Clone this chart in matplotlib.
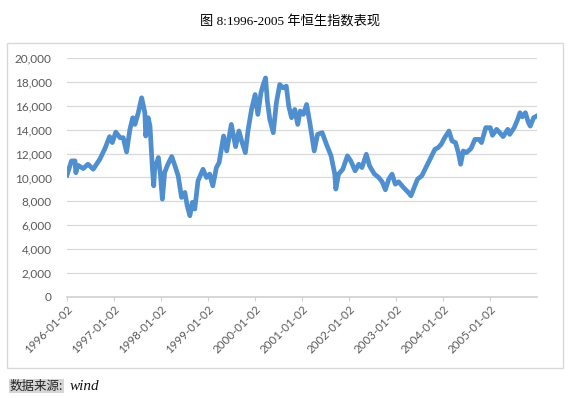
import pandas as pd
import matplotlib
matplotlib.use("Agg")
import matplotlib.pyplot as plt
import matplotlib.dates as mdates
from matplotlib.patches import Rectangle
from matplotlib.ticker import FuncFormatter

# HSI readings (approximate)
dates = ["1996-01-02", "1996-02-06", "1996-03-04", "1996-03-11", "1996-03-25",
         "1996-05-08", "1996-06-13", "1996-07-24", "1996-08-19", "1996-09-13",
         "1996-10-23", "1996-11-28", "1996-12-19", "1997-01-15", "1997-02-17",
         "1997-03-14", "1997-04-09", "1997-05-05", "1997-05-27", "1997-06-13",
         "1997-07-09", "1997-08-04", "1997-08-29", "1997-09-05", "1997-09-24",
         "1997-10-08", "1997-10-27", "1997-11-06", "1997-11-13", "1997-12-12",
         "1997-12-29", "1998-01-12", "1998-01-30", "1998-02-24", "1998-03-26",
         "1998-04-20", "1998-05-15", "1998-06-10", "1998-07-06", "1998-07-24",
         "1998-08-14", "1998-09-02", "1998-09-21", "1998-10-16", "1998-11-24",
         "1998-12-21", "1999-01-15", "1999-02-08", "1999-03-08", "1999-03-29",
         "1999-05-03", "1999-05-27", "1999-07-02", "1999-08-04", "1999-08-30",
         "1999-09-20", "1999-10-19", "1999-11-10", "1999-12-06", "2000-01-03",
         "2000-01-24", "2000-02-17", "2000-03-06", "2000-03-24", "2000-04-07",
         "2000-04-26", "2000-05-23", "2000-06-16", "2000-07-12", "2000-08-07",
         "2000-09-01", "2000-09-20", "2000-10-12", "2000-11-06", "2000-11-29",
         "2000-12-18", "2001-01-12", "2001-02-06", "2001-03-05", "2001-04-06",
         "2001-05-02", "2001-06-07", "2001-07-10", "2001-08-15", "2001-09-13",
         "2001-09-21", "2001-10-12", "2001-11-14", "2001-12-20", "2002-01-15",
         "2002-02-18", "2002-03-18", "2002-04-12", "2002-05-16", "2002-06-10",
         "2002-07-17", "2002-08-20", "2002-09-16", "2002-10-11", "2002-11-06",
         "2002-12-02", "2002-12-27", "2003-01-22", "2003-02-28", "2003-04-07",
         "2003-04-28", "2003-05-23", "2003-06-18", "2003-07-21", "2003-08-15",
         "2003-09-10", "2003-10-06", "2003-10-31", "2003-11-25", "2003-12-19",
         "2004-01-15", "2004-02-17", "2004-03-12", "2004-04-08", "2004-04-30",
         "2004-05-18", "2004-06-07", "2004-07-02", "2004-08-06", "2004-09-06",
         "2004-10-08", "2004-10-27", "2004-11-29", "2005-01-03", "2005-01-20",
         "2005-02-21", "2005-03-18", "2005-04-13", "2005-05-19", "2005-06-03",
         "2005-07-08", "2005-08-04", "2005-08-22", "2005-09-09", "2005-10-03",
         "2005-10-27", "2005-11-10", "2005-12-06", "2005-12-29"]
hsi = [10200, 11390, 11390, 10400, 11030,
       10750, 11110, 10690, 11110, 11530,
       12420, 13420, 12920, 13800, 13330,
       13330, 12140, 14030, 15000, 14440,
       15420, 16670, 15420, 13470, 15000,
       14300, 10690, 9300, 10690, 11670,
       10140, 8190, 10420, 11110, 11750,
       10970, 10140, 8330, 8750, 7640,
       6800, 7920, 7360, 9720, 10690,
       10000, 10280, 9300, 10830, 11250,
       13470, 12220, 14440, 12580, 13890,
       13060, 12080, 14030, 15690, 16940,
       15280, 17080, 17780, 18330, 16390,
       14860, 13750, 16250, 17780, 17500,
       17640, 15970, 15000, 15690, 14440,
       15560, 15280, 16110, 14440, 12220,
       13610, 13750, 12780, 11810, 10280,
       9030, 10280, 10690, 11810, 11390,
       10560, 11110, 10830, 11940, 10970,
       10300, 10000, 9640, 8970, 9860,
       10280, 9440, 9640, 9170, 8750,
       8470, 9170, 9860, 10140, 10690,
       11250, 11810, 12360, 12500, 12780,
       13330, 13890, 13060, 12920, 12080,
       11110, 12220, 12080, 12420, 13190,
       13190, 12920, 14170, 14170, 13530,
       14030, 13750, 13420, 14030, 13610,
       14170, 14860, 15420, 15080, 15420,
       14580, 14300, 15000, 15140]
tick_dates = ["1996-01-02", "1997-01-02", "1998-01-02", "1999-01-02", "2000-01-02",
              "2001-01-02", "2002-01-02", "2003-01-02", "2004-01-02", "2005-01-02"]
y_ticks = [0, 2000, 4000, 6000, 8000, 10000, 12000, 14000, 16000, 18000, 20000]

x = pd.to_datetime(dates)

fig = plt.figure(figsize=(5.74, 3.98), dpi=100)
ax = fig.add_axes([0.1167, 0.2538, 0.8188, 0.6005])

# outer chart frame
fig.patches.append(Rectangle((7 / 574, 1 - 368 / 398), 556 / 574, 325 / 398,
                             transform=fig.transFigure, fill=False,
                             edgecolor="#d9d9d9", linewidth=1.0))

ax.plot(x, hsi, color="#4f8fd0", linewidth=3.4, solid_joinstyle="round")

ax.set_ylim(0, 20000)
ax.set_xlim(pd.Timestamp("1996-01-02"), pd.Timestamp("2006-01-01"))
ax.set_yticks(y_ticks)
ax.yaxis.set_major_formatter(FuncFormatter(lambda v, p: f"{int(v):,}"))
ax.set_xticks(pd.to_datetime(tick_dates))
ax.xaxis.set_major_formatter(mdates.DateFormatter("%Y-%m-%d"))

ax.grid(axis="y", color="#d9d9d9", linewidth=0.9)
ax.set_axisbelow(True)
for s in ["top", "right", "left"]:
    ax.spines[s].set_visible(False)
ax.spines["bottom"].set_color("#d0d0d0")
ax.spines["bottom"].set_linewidth(1.2)

ax.tick_params(axis="y", length=0, pad=11, labelsize=8.5, labelcolor="#595959")
ax.tick_params(axis="x", length=3, color="#d0d0d0", pad=2, labelsize=8.3, labelcolor="#595959")
for lab in ax.get_yticklabels():
    lab.set_family("Lato")
for lab in ax.get_xticklabels():
    lab.set_family("Lato")
    lab.set_rotation(45)
    lab.set_ha("right")
    lab.set_va("top")
    lab.set_rotation_mode("anchor")

fig.text(0.505, 1 - 21 / 398, "图 8:1996-2005 年恒生指数表现", ha="center", va="center",
         fontsize=9.5, family=["Liberation Serif", "Noto Sans CJK SC"])

fig.text(10 / 574, 1 - 386 / 398, "数据来源:", ha="left", va="center", fontsize=9,
         style="italic", family=["Noto Sans CJK SC"], color="#222222",
         bbox=dict(facecolor="#d6d6d6", edgecolor="none", pad=0.5))
fig.text(70 / 574, 1 - 386 / 398, "wind", ha="left", va="center", fontsize=11,
         style="italic", family=["Liberation Serif"], color="#111111")

fig.savefig("out.png", dpi=100)
